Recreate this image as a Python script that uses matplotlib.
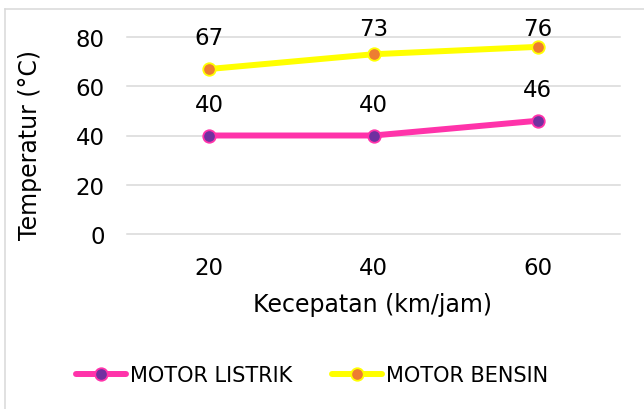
import matplotlib
matplotlib.use("Agg")
import matplotlib.pyplot as plt
from matplotlib.lines import Line2D

# Data
speeds = ["20", "40", "60"]
motor_listrik = [40, 40, 46]
motor_bensin = [67, 73, 76]
y_ticks = [0, 20, 40, 60, 80]

plt.rcParams["font.family"] = ["DejaVu Sans"]
FS = 16.5
FS_TITLE = 17
FS_LEG = 15

W, H = 644, 410
fig = plt.figure(figsize=(W / 100, H / 100), dpi=100)
ax = fig.add_axes([127 / W, 1 - 235 / H, (620 - 127) / W, (235 - 38) / H])

x = list(range(len(speeds)))
ax.set_xlim(-0.5, len(speeds) - 0.5)
ax.set_ylim(0, 80)

for yt in y_ticks:
    ax.axhline(yt, color="#D9D9D9", lw=1.1, zorder=0, clip_on=False)

series = [
    ("MOTOR LISTRIK", motor_listrik, "#FF33AA", "#7030A0"),
    ("MOTOR BENSIN", motor_bensin, "#FFFF00", "#ED7D31"),
]
for name, vals, lc, mc in series:
    ax.plot(x, vals, color=lc, lw=4.3, marker="o", markersize=9,
            markerfacecolor=mc, markeredgecolor=lc, markeredgewidth=1.3,
            label=name, solid_capstyle="round", clip_on=False, zorder=3)
    for xi, v in zip(x, vals):
        ly = min(v + 12.6, 83.3)
        ax.text(xi, ly, f"{v}", ha="center", va="center", fontsize=FS,
                color="#000000", clip_on=False)

ax.set_xticks(x)
ax.set_xticklabels(speeds)
ax.set_yticks(y_ticks)
ax.tick_params(axis="both", length=0, labelsize=FS, colors="#000000")
ax.tick_params(axis="y", pad=16)
ax.tick_params(axis="x", pad=16)
for s in ax.spines.values():
    s.set_visible(False)

fig.text(30 / W, 1 - 145 / H, "Temperatur (°C)", rotation=90, ha="center",
         va="center", fontsize=FS_TITLE)
fig.text(373 / W, 1 - 305 / H, "Kecepatan (km/jam)", ha="center",
         va="center", fontsize=FS_TITLE)

fig.legend(loc="center", bbox_to_anchor=(312 / W, 1 - 376 / H), ncol=2,
           frameon=False, fontsize=FS_LEG, handlelength=2.4, handletextpad=0.2,
           columnspacing=1.9)

# outer frame
fig.add_artist(Line2D([5 / W, 5 / W], [0, 1 - 10 / H], color="#D9D9D9",
                      lw=1.1, transform=fig.transFigure))
fig.add_artist(Line2D([5 / W, 1], [1 - 10 / H, 1 - 10 / H], color="#D9D9D9",
                      lw=1.1, transform=fig.transFigure))

fig.savefig("out.png", dpi=100, facecolor="white")
